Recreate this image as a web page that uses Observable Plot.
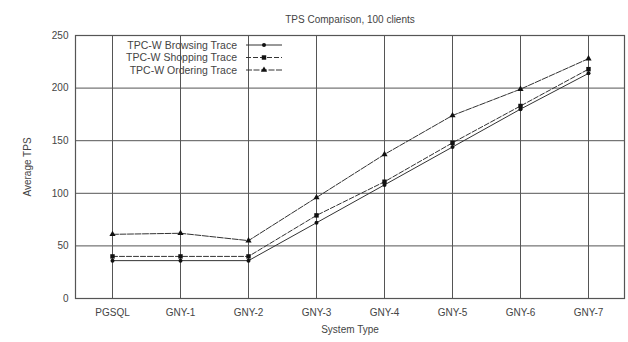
<!DOCTYPE html>
<html><head><meta charset="utf-8">
<script src="https://cdn.jsdelivr.net/npm/d3@7"></script>
<script src="https://cdn.jsdelivr.net/npm/@observablehq/plot@0.6"></script>
<style>
html,body{margin:0;padding:0;background:#fff;}
svg{font-family:"Liberation Sans",Arial,sans-serif;}
</style>
</head><body>
<div id="chart"></div>
<script>
const categories = ["PGSQL","GNY-1","GNY-2","GNY-3","GNY-4","GNY-5","GNY-6","GNY-7"];
const browsing = [36, 36, 36, 72, 108, 144, 180, 214];
const shopping = [40, 40, 40, 79, 111, 148, 183, 218];
const ordering = [61, 62, 55, 96, 137, 174, 199, 228];
const seriesNames = ["TPC-W Browsing Trace","TPC-W Shopping Trace","TPC-W Ordering Trace"];
const yTicks = [0, 50, 100, 150, 200, 250];
const gridY = [50, 100, 150, 200];

const seriesVals = [browsing, shopping, ordering];
const rows = [];
seriesVals.forEach((vals, s) => vals.forEach((v, i) => rows.push({series: seriesNames[s], cat: categories[i], v})));
const ink = "#333";
const dashes = [null, "5,2", "6,1.5"];
const symbols = ["circle", "square", "triangle"];
const radii = [2, 2.5, 2.3];

const marks = [
  Plot.ruleY(gridY, {stroke: "#555", strokeWidth: 1}),
  Plot.ruleX(categories, {stroke: "#555", strokeWidth: 1}),
  Plot.frame({stroke: "#555", strokeWidth: 1.2})
];
seriesNames.forEach((name, s) => {
  const d = rows.filter(r => r.series === name);
  marks.push(Plot.line(d, {x: "cat", y: "v", stroke: ink, strokeWidth: 1, strokeDasharray: dashes[s]}));
  marks.push(Plot.dot(d, {x: "cat", y: "v", fill: "#111", stroke: "none", r: radii[s], symbol: symbols[s]}));
});
marks.push(Plot.text(["TPS Comparison, 100 clients"], {frameAnchor: "top", dy: -20, fontSize: 10, fill: "#444"}));

const plot = Plot.plot({
  width: 628, height: 342,
  marginTop: 35, marginBottom: 44, marginLeft: 75, marginRight: 4,
  style: {fontFamily: "'Liberation Sans', Arial, sans-serif", fontSize: "10px", color: "#444", background: "#fff"},
  x: {type: "point", domain: categories, padding: 0.5, tickSize: 0, tickPadding: 10, label: "System Type", labelAnchor: "center", labelOffset: 34, labelArrow: "none"},
  y: {domain: [0, 250], ticks: yTicks, tickSize: 0, tickPadding: 7, label: "Average TPS", labelAnchor: "center", labelOffset: 52, labelArrow: "none"},
  marks
});
document.getElementById("chart").appendChild(plot);

// legend inside the plot area, top-left
const svg = d3.select(plot);
const lg = svg.append("g").attr("font-size", 10.5).attr("fill", "#444");
seriesNames.forEach((name, s) => {
  const y = 45 + s * 12.5;
  lg.append("text").attr("x", 237).attr("y", y).attr("dy", "0.35em").attr("text-anchor", "end").text(name);
  lg.append("line").attr("x1", 246).attr("x2", 282).attr("y1", y).attr("y2", y)
    .attr("stroke", ink).attr("stroke-width", 1).attr("stroke-dasharray", dashes[s]);
  lg.append("path").attr("d", d3.symbol(s === 0 ? d3.symbolCircle : s === 1 ? d3.symbolSquare : d3.symbolTriangle, Math.PI * radii[s] * radii[s])())
    .attr("transform", `translate(264,${y})`).attr("fill", "#111");
});
</script>
</body></html>
